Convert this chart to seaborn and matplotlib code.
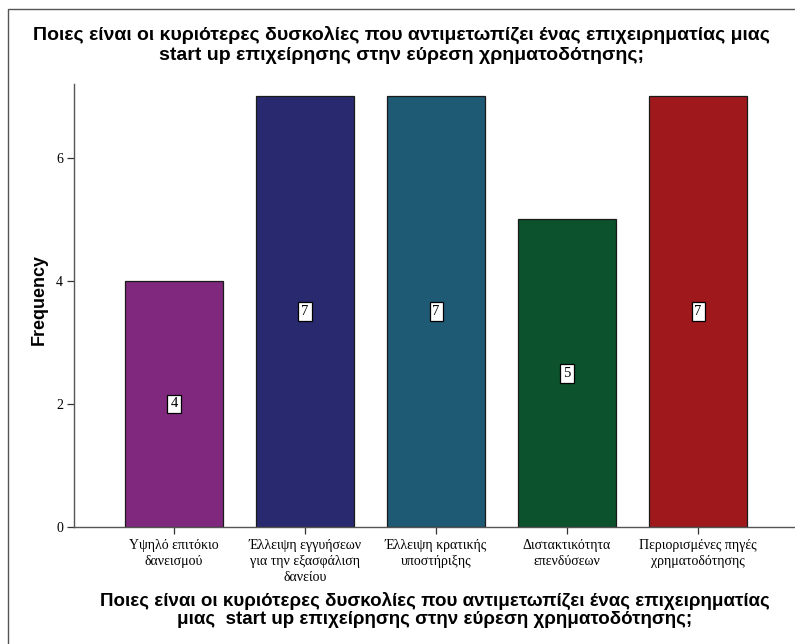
import matplotlib
matplotlib.use("Agg")
import matplotlib.pyplot as plt
import seaborn as sns
import pandas as pd

# Data
categories = [
    "Υψηλό επιτόκιο\nδανεισμού",
    "Έλλειψη εγγυήσεων\nγια την εξασφάλιση\nδανείου",
    "Έλλειψη κρατικής\nυποστήριξης",
    "Διστακτικότητα\nεπενδύσεων",
    "Περιορισμένες πηγές\nχρηματοδότησης",
]
frequency = [4, 7, 7, 5, 7]
bar_colors = ["#80287d", "#28296f", "#1e5a73", "#0c522d", "#9f181c"]
y_ticks = [0, 2, 4, 6]

title = ("Ποιες είναι οι κυριότερες δυσκολίες που αντιμετωπίζει ένας επιχειρηματίας μιας\n"
         "start up επιχείρησης στην εύρεση χρηματοδότησης;")
x_title = ("Ποιες είναι οι κυριότερες δυσκολίες που αντιμετωπίζει ένας επιχειρηματίας\n"
           "μιας  start up επιχείρησης στην εύρεση χρηματοδότησης;")

df = pd.DataFrame({"category": categories, "frequency": frequency})

sns.set_style("white")
plt.rcParams["font.family"] = ["Liberation Sans", "DejaVu Sans"]
plt.rcParams["text.color"] = "black"
plt.rcParams["axes.labelcolor"] = "black"
plt.rcParams["xtick.color"] = "black"
plt.rcParams["ytick.color"] = "black"

fig = plt.figure(figsize=(7.95, 6.44), dpi=100)
ax = fig.add_axes([0.0931, 0.1817, 0.907, 0.6876])

sns.barplot(data=df, x="category", y="frequency", hue="category",
            palette=bar_colors, saturation=1, legend=False, width=0.75,
            edgecolor="#1a1a1a", linewidth=0.9, ax=ax)

for cont in ax.containers:
    ax.bar_label(cont, label_type="center", fontsize=10.5, family="Liberation Serif",
                 bbox=dict(boxstyle="square,pad=0.2", fc="white", ec="black", lw=0.9))

ax.set_xlim(-0.763, 4.74)
ax.set_ylim(0, 7.2)
ax.set_yticks(y_ticks)
ax.set_xlabel("")
ax.set_ylabel("Frequency", fontsize=13, fontweight="bold")
ax.yaxis.set_label_coords(-0.036, 0.513)

for lab in ax.get_xticklabels():
    lab.set_family("Liberation Serif")
    lab.set_fontsize(10)
    lab.set_linespacing(1.3)
for lab in ax.get_yticklabels():
    lab.set_family("Liberation Serif")
    lab.set_fontsize(10)
ax.tick_params(axis="both", length=5, width=0.9, color="#333333", pad=3, bottom=True, left=True)
ax.tick_params(axis="x", pad=4)

sns.despine(ax=ax, top=True, right=True)
for side in ["left", "bottom"]:
    ax.spines[side].set_color("#555555")
    ax.spines[side].set_linewidth(1.0)

fig.text(0.505, 0.930, title, ha="center", va="center", fontsize=14,
         fontweight="bold", linespacing=1.2)
fig.text(0.547, 0.053, x_title, ha="center", va="center", fontsize=13.5,
         fontweight="bold", linespacing=1.1)

# outer chart frame (cropped on the right and bottom like the reference)
fig.add_artist(plt.Rectangle((0.0095, -0.1), 1.2, 1.086, transform=fig.transFigure,
                             fill=False, edgecolor="#555555", lw=1.0))

fig.savefig("out.png", dpi=100)
